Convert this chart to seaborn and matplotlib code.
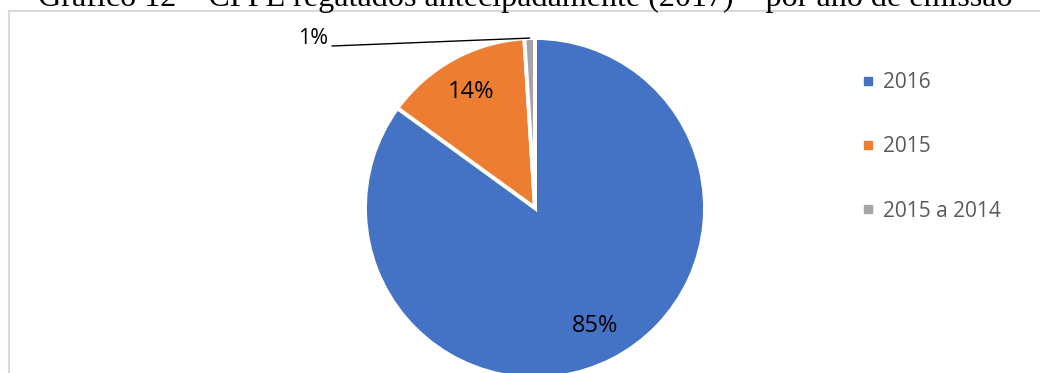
import numpy as np
import seaborn as sns
import matplotlib.pyplot as plt
from matplotlib.lines import Line2D
from matplotlib.patches import Rectangle

# data
labels = ['2016', '2015', '2015 a 2014']
shares = [85, 14, 1]
colors = ['#4472C4', '#ED7D31', '#A5A5A5']
title = 'Gráfico 12 – CPPE regatados antecipadamente (2017) – por ano de emissão'

sns.set_theme(style='white')
plt.rcParams['font.family'] = ['Open Sans', 'DejaVu Sans']

fig = plt.figure(figsize=(10.4, 3.73), dpi=100)
ax = fig.add_axes([0, 0, 1, 1])

# pie in pixel-like data units
cx, cy, r = 535, 165, 170
wedges, texts, autotexts = ax.pie(
    shares, colors=colors, startangle=90, counterclock=False,
    center=(cx, cy), radius=r,
    autopct=lambda p: f'{p:.0f}%', pctdistance=0.78,
    wedgeprops=dict(edgecolor='white', linewidth=2.8),
    textprops=dict(fontsize=17, color='black'))
ax.set_xlim(0, 1040)
ax.set_ylim(0, 373)
ax.set_aspect('equal')
ax.axis('off')

# small slice label outside with leader line
w = wedges[2]
ang = np.deg2rad((w.theta1 + w.theta2) / 2)
ex, ey = cx + r * np.cos(ang), cy + r * np.sin(ang)
autotexts[2].set_visible(False)
ax.plot([332, ex], [327, ey], color='black', lw=1)
ax.text(328, 335, autotexts[2].get_text(), ha='right', va='center',
        fontsize=15.5, color='black')

# chart frame (partially visible)
ax.add_patch(Rectangle((9, -5), 1040, 367, fill=False,
                       edgecolor='#D9D9D9', lw=1.5))

# title, cut at top
ax.text(525, 367, title, ha='center', va='baseline',
        family='Liberation Serif', fontsize=23.1, color='black')

handles = [Line2D([], [], marker='s', ls='', color=c, markersize=6) for c in colors]
ax.legend(handles, labels, loc='upper left', bbox_to_anchor=(860, 301),
          bbox_transform=ax.transData, frameon=False, fontsize=15,
          labelspacing=2.08, handletextpad=0.3, borderpad=0,
          borderaxespad=0, labelcolor='#595959', handlelength=0.8)

fig.savefig('out.png', dpi=100)
